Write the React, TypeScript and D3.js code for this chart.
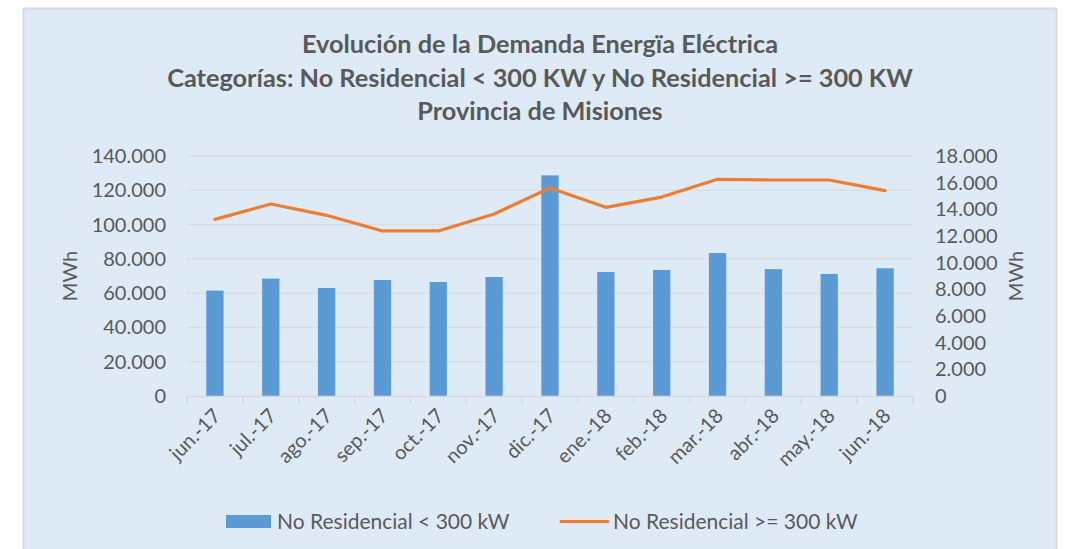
import React, { useEffect, useRef } from "react";
import * as d3 from "d3";

const months = ["jun.-17", "jul.-17", "ago.-17", "sep.-17", "oct.-17", "nov.-17", "dic.-17", "ene.-18", "feb.-18", "mar.-18", "abr.-18", "may.-18", "jun.-18"];
const lowValues = [61500, 68500, 63000, 67700, 66500, 69400, 128700, 72300, 73500, 83400, 74000, 71200, 74500];
const highValues = [13250, 14400, 13550, 12380, 12380, 13650, 15600, 14150, 14920, 16250, 16200, 16200, 15400];
const leftTicks = [0, 20000, 40000, 60000, 80000, 100000, 120000, 140000];
const rightTicks = [0, 2000, 4000, 6000, 8000, 10000, 12000, 14000, 16000, 18000];
const titleLines = [
  "Evolución de la Demanda Energïa Eléctrica",
  "Categorías: No Residencial < 300 KW y No Residencial >= 300 KW",
  "Provincia de Misiones",
];

const W = 1072;
const H = 549;
const FONT = "Lato, 'Open Sans', sans-serif";
const TXT = "#595959";

const fmt = (v: number) => (v === 0 ? "0" : d3.format(",")(v).replace(/,/g, "."));

const App = () => {
  const ref = useRef<SVGSVGElement>(null);

  useEffect(() => {
    const svg = d3.select(ref.current);
    svg.selectAll("*").remove();

    const margin = { top: 156, right: 159, bottom: 153, left: 187 };
    const width = W - margin.left - margin.right;
    const height = H - margin.top - margin.bottom;

    // chart area box
    svg.append("rect")
      .attr("x", 23.5).attr("y", 8.5)
      .attr("width", 1033).attr("height", 560)
      .attr("fill", "#DEEBF7")
      .attr("stroke", "#D9D9D9")
      .attr("stroke-width", 2);

    // title
    svg.append("g")
      .selectAll("text")
      .data(titleLines)
      .enter()
      .append("text")
      .attr("x", 540)
      .attr("y", (d, i) => 53 + i * 33.5)
      .attr("text-anchor", "middle")
      .attr("font-family", FONT)
      .attr("font-weight", "bold")
      .attr("font-size", 25.3)
      .attr("fill", TXT)
      .text((d) => d);

    const x = d3.scaleBand().domain(months).range([0, width]).paddingInner(0.69).paddingOuter(0.345);
    const xb = d3.scaleBand().domain(months).range([0, width]);
    const yL = d3.scaleLinear().domain([0, 140000]).range([height, 0]);
    const yR = d3.scaleLinear().domain([0, 18000]).range([height, 0]);

    const g = svg.append("g").attr("transform", `translate(${margin.left}, ${margin.top})`);

    // gridlines
    g.selectAll(".grid")
      .data(leftTicks.slice(1))
      .enter()
      .append("line")
      .attr("x1", 0).attr("x2", width)
      .attr("y1", (d) => yL(d)).attr("y2", (d) => yL(d))
      .attr("stroke", "#D9D9D9")
      .attr("stroke-width", 1);

    // bars
    g.selectAll(".bar")
      .data(lowValues)
      .enter()
      .append("rect")
      .attr("x", (d, i) => x(months[i])!)
      .attr("width", x.bandwidth())
      .attr("y", (d) => yL(d))
      .attr("height", (d) => height - yL(d))
      .attr("fill", "#5B9BD5");

    // x axis
    const xAxis = g.append("g")
      .attr("transform", `translate(0, ${height})`)
      .call(d3.axisBottom(xb).tickSize(0).tickFormat(() => ""));
    xAxis.select(".domain").attr("stroke", "#D9D9D9").attr("stroke-width", 1.5);
    g.selectAll(".xtick")
      .data(d3.range(months.length + 1))
      .enter()
      .append("line")
      .attr("x1", (i) => i * xb.step()).attr("x2", (i) => i * xb.step())
      .attr("y1", height).attr("y2", height + 8)
      .attr("stroke", "#D9D9D9").attr("stroke-width", 1.5);

    g.selectAll(".xlabel")
      .data(months)
      .enter()
      .append("text")
      .attr("transform", (d) => `translate(${xb(d)! + xb.bandwidth() / 2 + 7}, ${height + 21}) rotate(-45)`)
      .attr("text-anchor", "end")
      .attr("font-family", FONT)
      .attr("font-size", 20)
      .attr("fill", TXT)
      .text((d) => d);

    // line
    const line = d3.line<number>()
      .x((d, i) => xb(months[i])! + xb.bandwidth() / 2)
      .y((d) => yR(d));
    g.append("path")
      .datum(highValues)
      .attr("d", line)
      .attr("fill", "none")
      .attr("stroke", "#ED7D31")
      .attr("stroke-width", 3.2)
      .attr("stroke-linejoin", "round")
      .attr("stroke-linecap", "round");

    // left axis labels
    g.selectAll(".ylabel")
      .data(leftTicks)
      .enter()
      .append("text")
      .attr("x", -21)
      .attr("y", (d) => yL(d))
      .attr("dy", "0.35em")
      .attr("text-anchor", "end")
      .attr("font-family", FONT)
      .attr("font-size", 20)
      .attr("fill", TXT)
      .text((d) => fmt(d));

    g.selectAll(".yrlabel")
      .data(rightTicks)
      .enter()
      .append("text")
      .attr("x", width + 22)
      .attr("y", (d) => yR(d))
      .attr("dy", "0.35em")
      .attr("text-anchor", "start")
      .attr("font-family", FONT)
      .attr("font-size", 20)
      .attr("fill", TXT)
      .text((d) => fmt(d));

    // axis titles
    [70, 1016].forEach((cx) => {
      svg.append("text")
        .attr("transform", `translate(${cx}, 276) rotate(-90)`)
        .attr("text-anchor", "middle")
        .attr("dy", "0.35em")
        .attr("font-family", FONT)
        .attr("font-size", 20)
        .attr("fill", TXT)
        .text("MWh");
    });

    // legend
    const leg = svg.append("g").attr("transform", "translate(0, 521.5)");
    leg.append("rect").attr("x", 226).attr("y", -6.5).attr("width", 45).attr("height", 13).attr("fill", "#5B9BD5");
    leg.append("text").attr("x", 277).attr("dy", "0.35em")
      .attr("font-family", FONT).attr("font-size", 21).attr("fill", TXT)
      .text("No Residencial < 300 kW");
    leg.append("line").attr("x1", 561).attr("x2", 608).attr("y1", 0).attr("y2", 0)
      .attr("stroke", "#ED7D31").attr("stroke-width", 3.2).attr("stroke-linecap", "round");
    leg.append("text").attr("x", 613).attr("dy", "0.35em")
      .attr("font-family", FONT).attr("font-size", 21).attr("fill", TXT)
      .text("No Residencial >= 300 kW");
  }, []);

  return (
    <svg
      ref={ref}
      width={W}
      height={H}
      style={{ position: "fixed", left: 0, top: 0, background: "#ffffff" }}
    ></svg>
  );
};

export default App;
